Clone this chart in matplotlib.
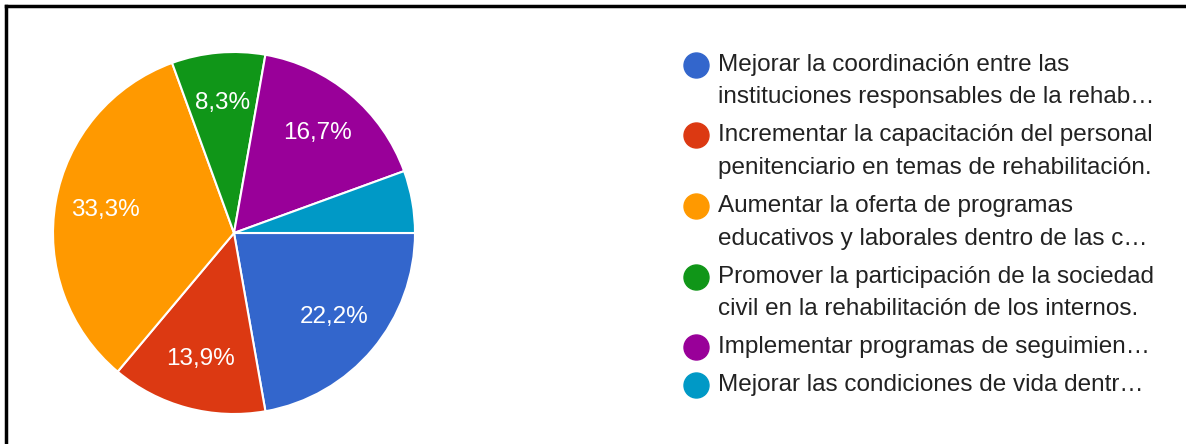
import matplotlib
matplotlib.use("Agg")
import matplotlib.pyplot as plt
from matplotlib.lines import Line2D

plt.rcParams['font.family'] = ['Liberation Sans', 'DejaVu Sans']

labels = [
    "Mejorar la coordinación entre las\ninstituciones responsables de la rehab…",
    "Incrementar la capacitación del personal\npenitenciario en temas de rehabilitación.",
    "Aumentar la oferta de programas\neducativos y laborales dentro de las c…",
    "Promover la participación de la sociedad\ncivil en la rehabilitación de los internos.",
    "Implementar programas de seguimien…",
    "Mejorar las condiciones de vida dentr…",
]
counts = [8, 5, 12, 3, 6, 2]
colors = ["#3366CC", "#DC3912", "#FF9900", "#109618", "#990099", "#0099C6"]

W, H = 1186, 444
fig = plt.figure(figsize=(W / 100, H / 100), dpi=100)

# pie axes: centre (234, 233) px, radius 181 px
cx, cy, r = 234, 233, 181
ax = fig.add_axes([(cx - r) / W, 1 - (cy + r) / H, 2 * r / W, 2 * r / H])


def fmt(p):
    if p < 7:
        return ""
    return f"{p:.1f}%".replace(".", ",")


wedges, texts, autotexts = ax.pie(
    counts, colors=colors, startangle=0, counterclock=False,
    autopct=fmt, pctdistance=0.72, radius=1,
    wedgeprops=dict(edgecolor="white", linewidth=1.5),
    textprops=dict(color="white", fontsize=17.5),
)
ax.set_xlim(-1.0, 1.0)
ax.set_ylim(-1.0, 1.0)
ax.set_aspect("auto")
ax.axis("off")

# legend, drawn by hand so the dot sits on the first line
line_h = 32.5
gap = 5.5
y = 65
for lab, col in zip(labels, colors):
    fig.add_artist(Line2D([696 / W], [1 - y / H], marker="o", markersize=18,
                          color=col, linestyle="none", transform=fig.transFigure))
    for i, part in enumerate(lab.split("\n")):
        fig.text(718 / W, 1 - (y + i * line_h) / H, part, fontsize=17.5,
                 color="#222222", va="center", ha="left")
    y += line_h * (lab.count("\n") + 1) + gap

# frame lines on top and left
fig.add_artist(Line2D([6 / W, 1], [1 - 6 / H, 1 - 6 / H], color="black", linewidth=2.5,
                      transform=fig.transFigure))
fig.add_artist(Line2D([6 / W, 6 / W], [0, 1 - 6 / H], color="black", linewidth=2.5,
                      transform=fig.transFigure))

fig.savefig("out.png", dpi=100)
